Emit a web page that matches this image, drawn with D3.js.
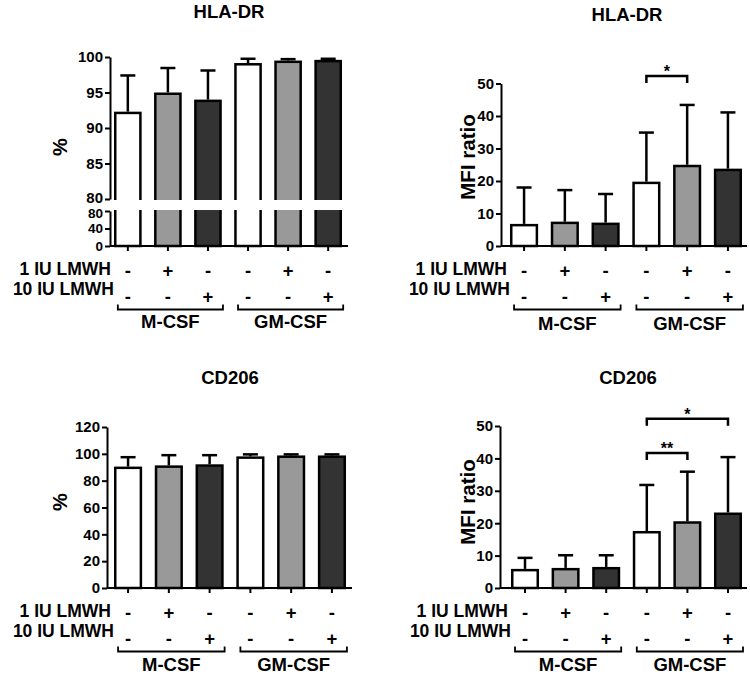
<!DOCTYPE html>
<html>
<head>
<meta charset="utf-8">
<script src="https://cdn.jsdelivr.net/npm/d3@7"></script>
<style>
  body { margin: 0; background: #fff; }
  svg { display: block; font-family: 'Liberation Sans', Arial, sans-serif; font-weight: bold; }
</style>
</head>
<body>
<div class="container"></div>
<script>
// categories
const conditions = ['M-CSF ctrl', 'M-CSF 1 IU', 'M-CSF 10 IU', 'GM-CSF ctrl', 'GM-CSF 1 IU', 'GM-CSF 10 IU']
const lmwh1 = ['-', '+', '-', '-', '+', '-']
const lmwh10 = ['-', '-', '+', '-', '-', '+']
const groups = ['M-CSF', 'GM-CSF']
const groupIdx = [[0, 2], [3, 5]]

// values (mean + SD, upper error only)
const hlaPct = [92.3, 95.0, 94.0, 99.15, 99.5, 99.6]
const hlaPctSd = [5.1, 3.45, 4.1, 0.6, 0.2, 0.15]
const hlaMfi = [6.8, 7.5, 7.2, 19.8, 25.0, 23.8]
const hlaMfiSd = [11.2, 9.7, 8.8, 15.1, 18.4, 17.3]
const cdPct = [90.5, 91.4, 92.2, 98.1, 98.8, 98.8]
const cdPctSd = [7.0, 7.6, 6.8, 1.5, 0.8, 0.8]
const cdMfi = [5.9, 6.2, 6.5, 17.6, 20.6, 23.3]
const cdMfiSd = [3.4, 3.9, 3.6, 14.2, 15.3, 17.1]

// significance: [from, to, y value, label]
const hlaMfiSig = [[3, 4, 52.3, '*']]
const cdMfiSig = [[3, 4, 41.7, '**'], [3, 5, 52.2, '*']]

// tick values
const hlaPctTicksUp = [80, 85, 90, 95, 100]
const hlaPctTicksLow = [0, 40, 80]
const mfiTicks = [0, 10, 20, 30, 40, 50]
const cdPctTicks = [0, 20, 40, 60, 80, 100, 120]

const fills = ['#ffffff', '#999999', '#333333']

const w = 750
const h = 676

const svg = d3.select('.container')
  .append('svg')
  .attr('width', w)
  .attr('height', h)

function panel(p) {
  const g = svg.append('g')
  const x = d3.scaleBand()
    .domain(conditions)
    .range(p.band)
    .paddingInner(0.31)
    .paddingOuter(0)
  const cx = i => x(conditions[i]) + x.bandwidth() / 2

  // y scale(s)
  let yTop, yBase
  if (p.broken) {
    yTop = d3.scaleLinear().domain([80, 100]).range([199, 57])
    yBase = d3.scaleLinear().domain([0, 80]).range([p.y0, 211])
  } else {
    yTop = d3.scaleLinear().domain(p.domain).range([p.y0, p.yTop])
    yBase = yTop
  }

  // error bars
  p.values.forEach((v, i) => {
    const top = yTop(v + p.sd[i])
    g.append('line')
      .attr('x1', cx(i)).attr('x2', cx(i))
      .attr('y1', yTop(v)).attr('y2', top)
      .attr('stroke', '#000').attr('stroke-width', 2.5)
    g.append('line')
      .attr('x1', cx(i) - 7.5).attr('x2', cx(i) + 7.5)
      .attr('y1', top).attr('y2', top)
      .attr('stroke', '#000').attr('stroke-width', 2.5)
  })

  // bars
  g.selectAll('rect.bar')
    .data(p.values)
    .enter()
    .append('rect')
    .attr('class', 'bar')
    .attr('x', (d, i) => x(conditions[i]) + 1.25)
    .attr('width', x.bandwidth() - 2.5)
    .attr('y', d => yTop(d) + 1.25)
    .attr('height', d => yBase(0) - yTop(d) - 1.25)
    .attr('fill', (d, i) => fills[i % 3])
    .attr('stroke', '#000')
    .attr('stroke-width', 2.5)

  if (p.broken) {
    g.append('rect')
      .attr('x', p.x0 - 3).attr('width', p.xEnd - p.x0 + 6)
      .attr('y', yTop(80) + 1).attr('height', yBase(80) - yTop(80) - 2)
      .attr('fill', '#fff')
  }

  // baseline + x ticks
  g.append('line')
    .attr('x1', p.x0).attr('x2', p.xEnd)
    .attr('y1', p.y0).attr('y2', p.y0)
    .attr('stroke', '#000').attr('stroke-width', 2)
  conditions.forEach((c, i) => {
    g.append('line')
      .attr('x1', cx(i)).attr('x2', cx(i))
      .attr('y1', p.y0).attr('y2', p.y0 + 5)
      .attr('stroke', '#000').attr('stroke-width', 2)
  })

  // y axes
  const drawAxis = (scale, ticks, fs) => {
    const ax = g.append('g')
      .attr('transform', `translate(${p.x0}, 0)`)
      .call(d3.axisLeft(scale).tickValues(ticks).tickSize(5).tickPadding(2).tickSizeOuter(0))
    ax.select('.domain').attr('stroke-width', 2)
    ax.selectAll('.tick line').attr('stroke-width', 2)
    ax.selectAll('.tick text')
      .attr('font-size', fs)
      .attr('font-weight', 'bold')
      .attr('font-family', "'Liberation Sans', Arial, sans-serif")
      .attr('fill', '#000')
    return ax
  }
  if (p.broken) {
    const up = drawAxis(yTop, hlaPctTicksUp, 15)
    up.selectAll('.tick text').filter(d => d === 80).attr('dy', '0.2em')
    const low = drawAxis(yBase, hlaPctTicksLow, 13.5)
    low.selectAll('.tick text').filter(d => d === 80).attr('dy', '0.45em')
  } else {
    drawAxis(yTop, p.ticks, 15)
  }

  // significance brackets
  ;(p.sig || []).forEach(s => {
    const yy = yTop(s[2])
    g.append('path')
      .attr('d', `M${cx(s[0])},${yy + 7}V${yy}H${cx(s[1])}V${yy + 7}`)
      .attr('fill', 'none')
      .attr('stroke', '#000').attr('stroke-width', 2.5)
    g.append('text')
      .text(s[3])
      .attr('x', (cx(s[0]) + cx(s[1])) / 2)
      .attr('y', yy + 1)
      .attr('text-anchor', 'middle')
      .attr('font-size', 16)
  })

  // title
  g.append('text')
    .text(p.title)
    .attr('x', p.titleX).attr('y', p.titleY)
    .attr('text-anchor', 'middle')
    .attr('font-size', 18.5)

  // y label
  g.append('text')
    .text(p.yLabel)
    .attr('transform', `translate(${p.yLabelX}, ${p.yLabelY}) rotate(-90)`)
    .attr('text-anchor', 'middle')
    .attr('dominant-baseline', 'central')
    .attr('font-size', p.yLabelSize)

  // treatment rows
  const bs = p.band[0]
  g.append('text').text('1 IU LMWH')
    .attr('x', bs - 3).attr('y', p.y0 + 29)
    .attr('text-anchor', 'end').attr('font-size', 17.5)
  g.append('text').text('10 IU LMWH')
    .attr('x', bs).attr('y', p.y0 + 48.5)
    .attr('text-anchor', 'end').attr('font-size', 17.5)
  lmwh1.forEach((s, i) => {
    g.append('text').text(s)
      .attr('x', cx(i)).attr('y', p.y0 + 31)
      .attr('text-anchor', 'middle').attr('font-size', 18.5)
  })
  lmwh10.forEach((s, i) => {
    g.append('text').text(s)
      .attr('x', cx(i)).attr('y', p.y0 + 57)
      .attr('text-anchor', 'middle').attr('font-size', 18.5)
  })

  // group brackets
  groups.forEach((name, k) => {
    const l = cx(groupIdx[k][0]) - 10
    const r = cx(groupIdx[k][1]) + 15
    const by = p.y0 + 63.5
    g.append('path')
      .attr('d', `M${l},${by - 5}V${by}H${r}V${by - 5}`)
      .attr('fill', 'none')
      .attr('stroke', '#000').attr('stroke-width', 1.8)
    g.append('text').text(name)
      .attr('x', (l + r) / 2).attr('y', p.y0 + p.groupDy)
      .attr('text-anchor', 'middle').attr('font-size', 18.5)
  })
}

panel({
  title: 'HLA-DR', titleX: 229, titleY: 18,
  values: hlaPct, sd: hlaPctSd, broken: true,
  x0: 110, xEnd: 348, band: [114, 342], y0: 246,
  yLabel: '%', yLabelX: 60, yLabelY: 147, yLabelSize: 20, groupDy: 82
})

panel({
  title: 'HLA-DR', titleX: 627, titleY: 21,
  values: hlaMfi, sd: hlaMfiSd, sig: hlaMfiSig,
  domain: [0, 50], ticks: mfiTicks,
  x0: 501, xEnd: 747, band: [510, 742], y0: 246, yTop: 83.5,
  yLabel: 'MFI ratio', yLabelX: 467, yLabelY: 157, yLabelSize: 20.5, groupDy: 84
})

panel({
  title: 'CD206', titleX: 230, titleY: 384,
  values: cdPct, sd: cdPctSd,
  domain: [0, 120], ticks: cdPctTicks,
  x0: 107, xEnd: 352, band: [114, 346], y0: 588, yTop: 427,
  yLabel: '%', yLabelX: 60, yLabelY: 502, yLabelSize: 20, groupDy: 83
})

panel({
  title: 'CD206', titleX: 628, titleY: 384,
  values: cdMfi, sd: cdMfiSd, sig: cdMfiSig,
  domain: [0, 50], ticks: mfiTicks,
  x0: 500, xEnd: 747, band: [511, 742], y0: 588, yTop: 426,
  yLabel: 'MFI ratio', yLabelX: 467, yLabelY: 502, yLabelSize: 20.5, groupDy: 83
})
</script>
</body>
</html>
